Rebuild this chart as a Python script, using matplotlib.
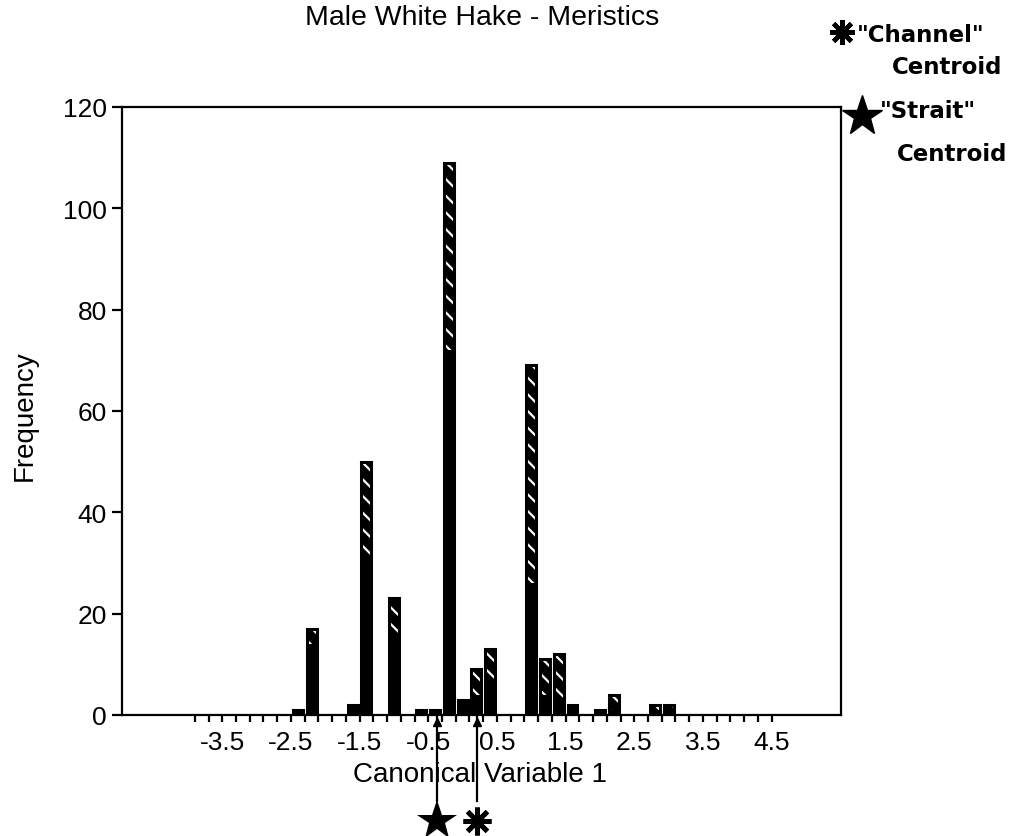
import matplotlib
matplotlib.use('Agg')
import matplotlib.pyplot as plt
import numpy as np
from matplotlib.lines import Line2D

plt.rcParams['font.family'] = ['Liberation Sans', 'DejaVu Sans']
plt.rcParams['hatch.linewidth'] = 1.6

# bin centres on Canonical Variable 1, bar totals and the solid (lower) part
centers = [-2.4, -2.2, -1.6, -1.4, -1.0, -0.6, -0.4, -0.2, 0.0, 0.2,
           0.4, 1.0, 1.2, 1.4, 1.6, 2.0, 2.2, 2.8, 3.0]
totals = [1, 17, 2, 50, 23, 1, 1, 109, 3, 9,
          13, 69, 11, 12, 2, 1, 4, 2, 2]
solid = [1, 14, 2, 31, 15, 1, 1, 72, 2, 4,
         7, 26, 4, 3, 2, 1, 1, 1, 1]
tick_labels = ['-3.5', '-2.5', '-1.5', '-0.5', '0.5', '1.5', '2.5', '3.5', '4.5']
strait_centroid = -0.37
channel_centroid = 0.21

x = np.array(centers)
upper = np.array(totals) - np.array(solid)
W = 0.145

fig = plt.figure(figsize=(10.2, 8.37), dpi=100)
ax = fig.add_axes([0.1196, 0.1446, 0.7049, 0.7264])

ax.bar(x, solid, W, color='black', linewidth=0)
ax.bar(x, upper, W, bottom=solid, color='black', edgecolor='white',
       hatch='\\\\', linewidth=0)
# black rim so the hatching reads as short dashes
ax.bar(x, totals, W, facecolor='none', edgecolor='black', linewidth=2.2)

ax.set_xlim(-4.96, 5.51)
ax.set_ylim(0, 120)

ticks = np.round(np.arange(-3.9, 4.55, 0.2), 1)
lab_vals = np.array([float(t) for t in tick_labels])
ax.set_xticks(ticks)
ax.set_xticklabels([tick_labels[int(np.argmin(np.abs(lab_vals - v)))]
                    if np.isclose(v, lab_vals).any() else '' for v in ticks])
ax.set_yticks(range(0, 121, 20))
ax.tick_params(axis='x', direction='out', length=5, width=1.6, labelsize=19, pad=6)
ax.tick_params(axis='y', direction='out', length=7, width=1.6, labelsize=19, pad=4)
for s in ax.spines.values():
    s.set_linewidth(1.6)

fig.text(0.4725, 0.978, 'Male White Hake - Meristics', ha='center', va='center', fontsize=20.5)
fig.text(0.4706, 0.074, 'Canonical Variable 1', ha='center', va='center', fontsize=20)
fig.text(0.0245, 0.504, 'Frequency', ha='center', va='center', rotation=90, fontsize=20)

# centroid pointers below the axis
for c, mk, ms, mew in [(strait_centroid, '*', 30, 0), (channel_centroid, (8, 2, 0), 20, 3.5)]:
    ax.plot([c, c], [0, -17], color='black', lw=1.6, clip_on=False)
    ax.plot(c, -1.3, marker='^', ms=6, color='black', clip_on=False)
    ax.plot(c, -21, marker=mk, ms=ms, mew=mew, color='black', mec='black', clip_on=False)

# legend in the top right
fig.add_artist(Line2D([842 / 1020], [1 - 33 / 837], marker=(8, 2, 0), ms=18, mew=3.2,
                      color='black', transform=fig.transFigure))
fig.add_artist(Line2D([862 / 1020], [1 - 117 / 837], marker='*', ms=30, color='black',
                      transform=fig.transFigure))
kw = dict(ha='left', va='center', fontsize=16.5, fontweight='bold', family='DejaVu Sans')
fig.text(857 / 1020, 1 - 36 / 837, '"Channel"', **kw)
fig.text(892 / 1020, 1 - 68 / 837, 'Centroid', **kw)
fig.text(880 / 1020, 1 - 112 / 837, '"Strait"', **kw)
fig.text(897 / 1020, 1 - 155 / 837, 'Centroid', **kw)

fig.savefig('out.png', dpi=100, facecolor='white')
